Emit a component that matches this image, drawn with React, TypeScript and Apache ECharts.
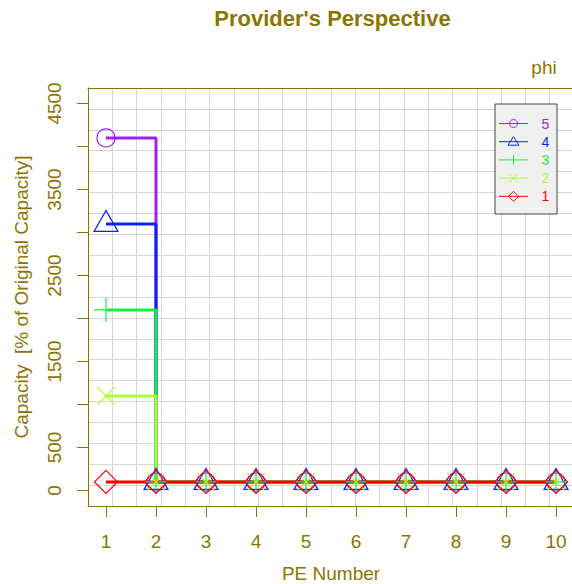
import React, { useEffect, useRef } from 'react';
import * as echarts from 'echarts';

const peNumbers = [1, 2, 3, 4, 5, 6, 7, 8, 9, 10];
const phiLabels = ['5', '4', '3', '2', '1'];
const phi5 = [4100, 100, 100, 100, 100, 100, 100, 100, 100, 100];
const phi4 = [3100, 100, 100, 100, 100, 100, 100, 100, 100, 100];
const phi3 = [2100, 100, 100, 100, 100, 100, 100, 100, 100, 100];
const phi2 = [1100, 100, 100, 100, 100, 100, 100, 100, 100, 100];
const phi1 = [100, 100, 100, 100, 100, 100, 100, 100, 100, 100];
const yTickValues = [0, 500, 1000, 1500, 2000, 2500, 3000, 3500, 4000, 4500];
const yLabelValues = [0, 500, 1500, 2500, 3500, 4500];

const OLIVE = '#8B7500';
const FONT = 'Liberation Sans';
const colors = ['#A020F0', '#0A24FF', '#14F03C', '#ADFF2F', '#FF0000'];
const seriesValues = [phi5, phi4, phi3, phi2, phi1];
const symbols: any[] = [
  { symbol: 'circle', size: 18, offset: [0, 0] },
  { symbol: 'triangle', size: [24, 21], offset: [0, -3] },
  { symbol: 'path://M0,12L24,12M12,0L12,24', size: [24, 24], offset: [0, 0] },
  { symbol: 'path://M0,0L10,10M10,0L0,10', size: [18, 18], offset: [0, 0] },
  { symbol: 'diamond', size: [23, 23], offset: [0, 0] },
];

function legendGraphics() {
  const els: any[] = [];
  els.push({
    type: 'rect',
    shape: { x: 495, y: 104, width: 62, height: 110 },
    style: { fill: '#f0f0f0', stroke: '#444', lineWidth: 1 },
    z: 100,
  });
  phiLabels.forEach((lab, i) => {
    const y = 123.5 + i * 18.2;
    const c = colors[i];
    const cx = 513.5;
    els.push({ type: 'line', shape: { x1: 499, y1: y, x2: 528, y2: y }, style: { stroke: c, lineWidth: 1 }, z: 101 });
    const ms = { stroke: c, fill: 'none', lineWidth: 1 };
    if (i === 0) els.push({ type: 'circle', shape: { cx, cy: y, r: 4 }, style: ms, z: 102 });
    if (i === 1) els.push({ type: 'polygon', shape: { points: [[cx, y - 5], [cx + 5.5, y + 3.5], [cx - 5.5, y + 3.5]] }, style: ms, z: 102 });
    if (i === 2) els.push({ type: 'line', shape: { x1: cx, y1: y - 5, x2: cx, y2: y + 5 }, style: ms, z: 102 });
    if (i === 3) {
      els.push({ type: 'line', shape: { x1: cx - 4, y1: y - 4, x2: cx + 4, y2: y + 4 }, style: ms, z: 102 });
      els.push({ type: 'line', shape: { x1: cx + 4, y1: y - 4, x2: cx - 4, y2: y + 4 }, style: ms, z: 102 });
    }
    if (i === 4) els.push({ type: 'polygon', shape: { points: [[cx, y - 5], [cx + 5, y], [cx, y + 5], [cx - 5, y]] }, style: ms, z: 102 });
    els.push({
      type: 'text',
      style: { text: lab, x: 545.5, y, align: 'center', verticalAlign: 'middle', font: `14px "${FONT}"`, fill: c },
      z: 102,
    });
  });
  return els;
}

export default function App() {
  const ref = useRef<HTMLDivElement>(null);
  useEffect(() => {
    if (!ref.current) return;
    const chart = echarts.init(ref.current, null, { renderer: 'svg' });
    const series = seriesValues.map((vals, i) => ({
      name: phiLabels[i],
      type: 'line',
      step: 'end',
      xAxisIndex: 0,
      yAxisIndex: 0,
      data: peNumbers.map((x, j) => [x, vals[j]]),
      symbol: symbols[i].symbol,
      symbolSize: symbols[i].size,
      symbolOffset: symbols[i].offset,
      showAllSymbol: true,
      lineStyle: { color: colors[i], width: 3 },
      itemStyle: { color: 'rgba(0,0,0,0)', borderColor: colors[i], borderWidth: 1.2 },
      emphasis: { disabled: true },
      z: 3,
    }));
    chart.setOption({
      animation: false,
      backgroundColor: '#ffffff',
      textStyle: { fontFamily: FONT },
      title: {
        text: "Provider's Perspective",
        left: 327.5,
        top: 2,
        textAlign: 'center',
        textStyle: { color: OLIVE, fontSize: 22, fontWeight: 'bold', fontFamily: FONT },
      },
      grid: { left: 88, top: 88, width: 486, height: 418, containLabel: false, outerBoundsMode: 'none' },
      xAxis: [
        {
          type: 'value',
          min: 0.64,
          max: 10.36,
          position: 'bottom',
          name: 'PE Number',
          nameLocation: 'middle',
          nameGap: 60,
          nameTextStyle: { color: OLIVE, fontSize: 19, lineHeight: 14, fontFamily: FONT },
          axisLine: { show: true, onZero: false, lineStyle: { color: OLIVE, width: 1 } },
          axisTick: { show: true, inside: false, length: 11, customValues: peNumbers, lineStyle: { color: OLIVE } },
          axisLabel: { show: true, customValues: peNumbers, margin: 26, color: OLIVE, fontSize: 19, fontFamily: FONT },
          splitLine: { show: false },
        },
        {
          type: 'value',
          min: 0,
          max: 20,
          interval: 1,
          position: 'top',
          axisLine: { show: true, onZero: false, lineStyle: { color: OLIVE, width: 1 } },
          axisTick: { show: false },
          axisLabel: { show: false },
          splitLine: { show: true, lineStyle: { color: '#d6d6d6', width: 1 } },
        },
      ],
      yAxis: [
        {
          type: 'value',
          min: -180,
          max: 4680,
          position: 'left',
          name: 'Capacity  [% of Original Capacity]',
          nameLocation: 'middle',
          nameRotate: 90,
          nameGap: 57,
          nameTextStyle: { color: OLIVE, fontSize: 19, fontFamily: FONT },
          axisLine: { show: true, onZero: false, lineStyle: { color: OLIVE, width: 1 } },
          axisTick: { show: true, inside: false, length: 11, customValues: yTickValues, lineStyle: { color: OLIVE } },
          axisLabel: {
            show: true,
            customValues: yLabelValues,
            rotate: 90,
            margin: 24,
            color: OLIVE,
            fontSize: 19,
            fontFamily: FONT,
            formatter: (v: number) => String(v),
          },
          splitLine: { show: false },
        },
        {
          type: 'value',
          min: 0,
          max: 20,
          interval: 1,
          position: 'right',
          axisLine: { show: false },
          axisTick: { show: false },
          axisLabel: { show: false },
          splitLine: { show: true, lineStyle: { color: '#d6d6d6', width: 1 } },
        },
      ],
      graphic: [
        {
          type: 'text',
          style: { text: 'phi', x: 544, y: 67, align: 'center', verticalAlign: 'middle', font: `19px "${FONT}"`, fill: OLIVE },
        },
        ...legendGraphics(),
      ],
      series,
    });
    return () => chart.dispose();
  }, []);
  return <div ref={ref} style={{ position: 'fixed', left: 0, top: 0, width: 572, height: 584 }} />;
}
